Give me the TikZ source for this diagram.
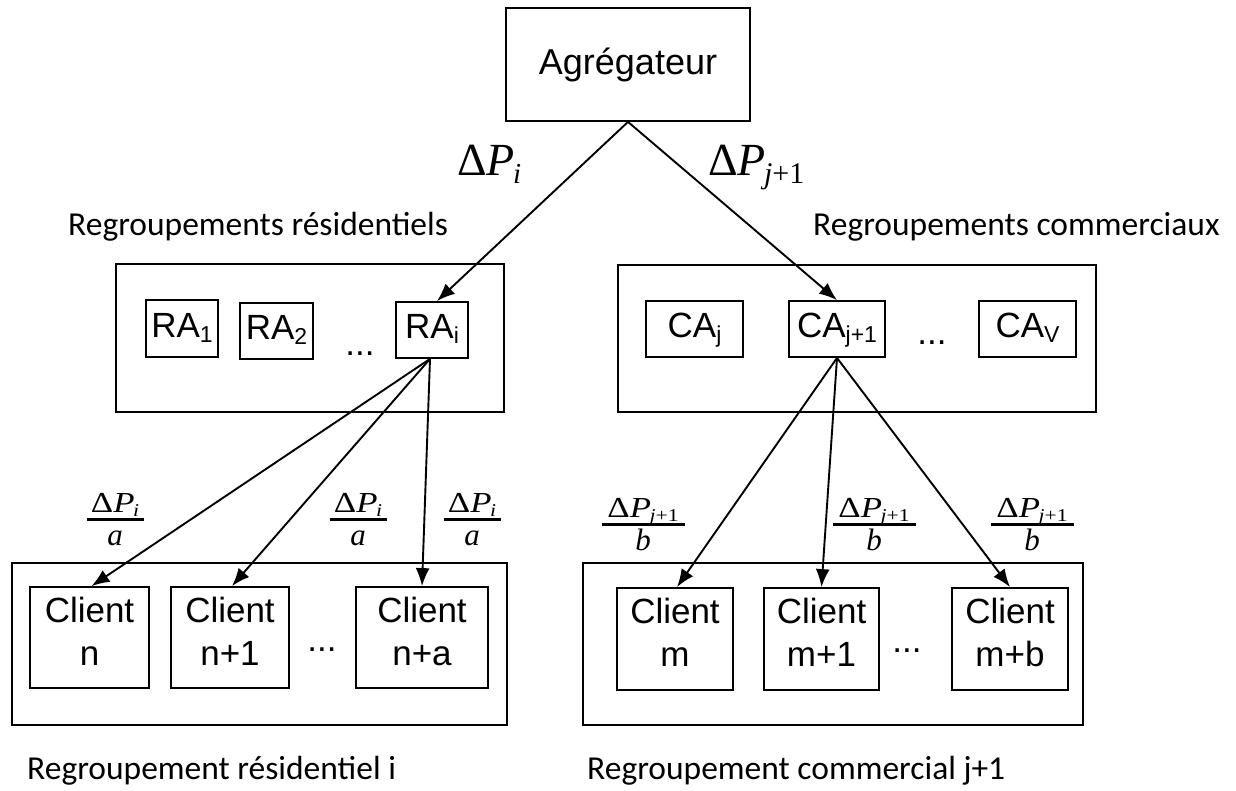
\documentclass[tikz,border=0pt]{standalone}
\usepackage{fontspec}
\usepackage{graphicx}
\setmainfont{Liberation Sans}
\newfontfamily\grpfont{Carlito}
\newfontfamily\serfont{Liberation Serif}
\usetikzlibrary{arrows.meta}

% lowered index inside the box labels (RA_1, CA_j, ...)
\newcommand\boxsub[1]{\raisebox{-5pt}{\fontsize{23}{23}\selectfont #1}}
% Delta P with index: #1 main size, #2 index size, #3 drop, #4 index
\newcommand\dP[4]{{\serfont\fontsize{#1}{#1}\selectfont Δ\textit{P}\kern-0.04em\raisebox{-#3}{\fontsize{#2}{#2}\selectfont #4}}}
% stacked fraction: #1 bar width, #2 numerator, #3 denominator
\newcommand\fracstack[3]{\vbox{\offinterlineskip
  \hbox to #1{\hss\raisebox{0pt}[\height][0pt]{#2}\hss}\kern6pt
  \hrule height 3pt\kern6pt
  \hbox to #1{\hss\raisebox{0pt}[18pt][0pt]{#3}\hss}}}
\newcommand\den[1]{{\serfont\itshape\fontsize{31}{31}\selectfont #1}}
\newcommand\numi{\scalebox{1.2}[1]{\dP{29}{18}{4.5pt}{\itshape i}}}
\newcommand\numj{\scalebox{1.2}[1]{\dP{29}{18}{4.5pt}{\textit{j}+1}}}

\begin{document}
\begin{tikzpicture}[x=1pt,y=-1pt,
  box/.style={draw, line width=1.8pt, inner sep=0pt},
  lbl/.style={font=\fontsize{35}{43}\selectfont},
  sbox/.style={box, lbl, text height=25pt, text depth=8pt},
  cbox/.style={box, lbl, align=center, text depth=13pt},
  grp/.style={font=\grpfont\fontsize{33.5}{40}\selectfont, anchor=base west, inner sep=0pt},
  arr/.style={line width=1.9pt, -{Latex[length=18pt,width=14pt]}},
  frac/.style={anchor=base, inner sep=0pt},
  dots/.style={lbl, inner sep=0pt}]
\useasboundingbox (0,0) rectangle (1236,790);

% top node
\node[box, minimum width=244pt, minimum height=113pt, font=\fontsize{36}{40}\selectfont] (agg) at (628,64.5) {Agrégateur};

% aggregation groups
\node[box, minimum width=388pt, minimum height=148pt] (resgrp) at (310,338) {};
\node[box, minimum width=478pt, minimum height=147pt] (comgrp) at (857,338.5) {};

\node[sbox, minimum width=72pt, minimum height=57pt] (ra1) at (182,328.5) {RA\boxsub{1}};
\node[sbox, minimum width=73pt, minimum height=56pt] (ra2) at (276.5,331) {RA\boxsub{2}};
\node[dots] (radots) at (360,354) {...};
\node[sbox, minimum width=72pt, minimum height=56pt] (rai) at (432,330) {RA\boxsub{i}};

\node[sbox, minimum width=97pt, minimum height=56pt] (caj) at (694.5,329) {CA\boxsub{j}};
\node[sbox, minimum width=96pt, minimum height=56pt] (caj1) at (837,329) {CA\boxsub{j+1}};
\node[dots] (cadots) at (932,343) {...};
\node[sbox, minimum width=97pt, minimum height=56pt] (cav) at (1027.5,329) {CA\boxsub{V}};

% client groups
\node[box, minimum width=495pt, minimum height=162pt] (resclients) at (259.5,644) {};
\node[box, minimum width=500pt, minimum height=162pt] (comclients) at (833,644) {};

\node[cbox, minimum width=119pt, minimum height=101pt] (cn) at (89.5,637.5) {Client\\n};
\node[cbox, minimum width=118pt, minimum height=101pt] (cn1) at (230,637.5) {Client\\n+1};
\node[dots] (cndots) at (322,650) {...};
\node[cbox, minimum width=132pt, minimum height=101pt] (cna) at (422,637.5) {Client\\n+a};

\node[cbox, minimum width=116pt, minimum height=102pt] (cm) at (675,639) {Client\\m};
\node[cbox, minimum width=115pt, minimum height=102pt] (cm1) at (821.5,639) {Client\\m+1};
\node[dots] (cmdots) at (907,651) {...};
\node[cbox, minimum width=116pt, minimum height=102pt] (cmb) at (1010,639) {Client\\m+b};

% connectors
\draw[arr] (agg.south) -- ([xshift=5pt]rai.north);
\draw[arr] (agg.south) -- (caj1.north);
\draw[arr] ([xshift=-2pt]rai.south) -- ([xshift=2pt]cn.north);
\draw[arr] ([xshift=-2pt]rai.south) -- ([xshift=2pt]cn1.north);
\draw[arr] ([xshift=-2pt]rai.south) -- (cna.north);
\draw[arr] (caj1.south) -- ([xshift=2pt]cm.north);
\draw[arr] (caj1.south) -- (cm1.north);
\draw[arr] (caj1.south) -- (cmb.north);

% power labels
\node[anchor=base west, inner sep=0pt] (dpi) at (457,175) {\dP{46}{29}{8pt}{\itshape i}};
\node[anchor=base west, inner sep=0pt] (dpj) at (708,175) {\dP{46}{30}{8pt}{\textit{j}+1}};

\node[frac] (fa1) at (115,545) {\fracstack{57pt}{\numi}{\den{a}}};
\node[frac] (fa2) at (358,545) {\fracstack{57pt}{\numi}{\den{a}}};
\node[frac] (fa3) at (472,545) {\fracstack{57pt}{\numi}{\den{a}}};
\node[frac] (fb1) at (643,550) {\fracstack{83pt}{\numj}{\den{b}}};
\node[frac] (fb2) at (874,550) {\fracstack{83pt}{\numj}{\den{b}}};
\node[frac] (fb3) at (1032,550) {\fracstack{83pt}{\numj}{\den{b}}};

% group captions
\node[grp] (capres) at (68,235) {Regroupements résidentiels};
\node[grp] (capcom) at (813,235) {Regroupements commerciaux};
\node[grp] (capresi) at (27,779) {Regroupement résidentiel i};
\node[grp] (capcomj) at (587,779) {Regroupement commercial j+1};
\end{tikzpicture}
\end{document}
